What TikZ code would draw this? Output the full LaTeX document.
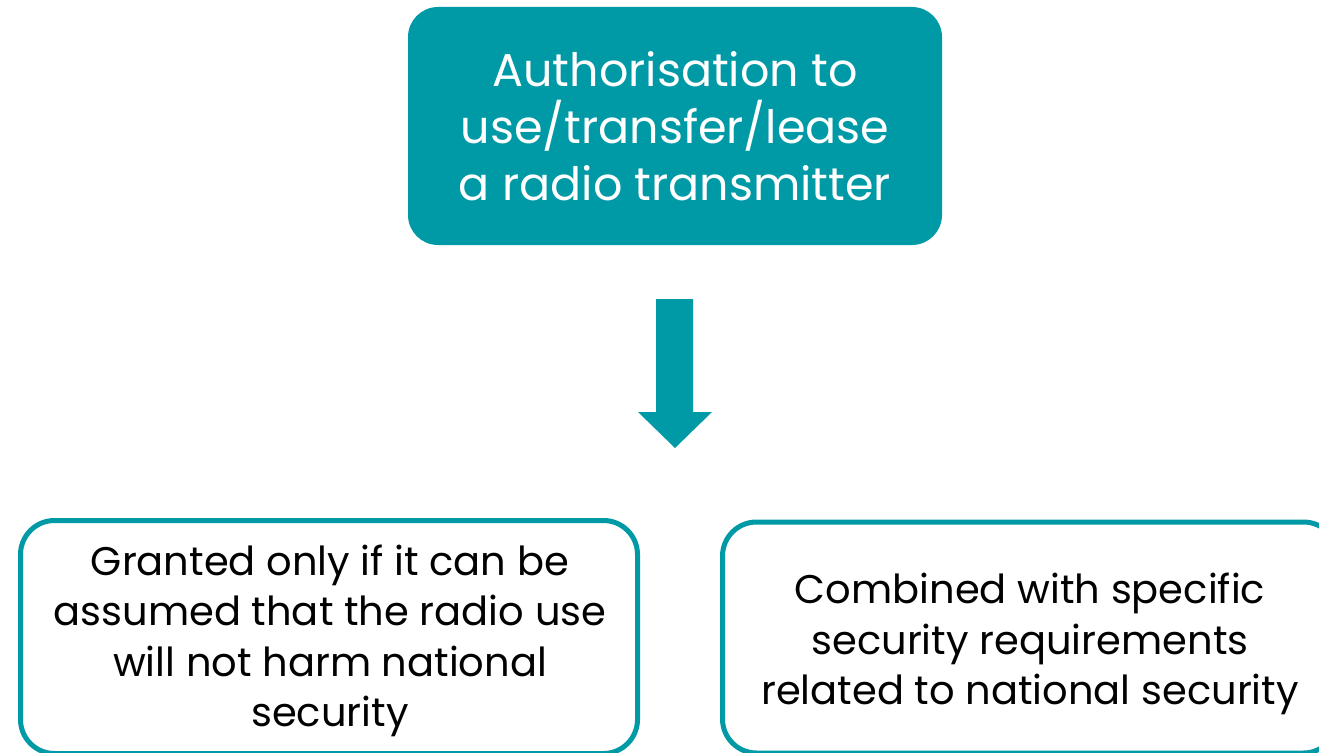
\documentclass[tikz,border=0pt]{standalone}
\usepackage{fontspec}
\setmainfont{Poppins}
\definecolor{teal}{RGB}{0,154,166}
\begin{document}
\begin{tikzpicture}[x=1pt,y=-1pt,
  topbox/.style={rectangle,fill=teal,rounded corners=30pt,minimum width=534pt,minimum height=238pt,inner sep=0pt},
  outbox/.style={rectangle,draw=teal,line width=5pt,fill=white,rounded corners=34pt,inner sep=0pt},
  toptext/.style={text=white,align=center,font=\fontsize{46}{57}\selectfont},
  bottext/.style={text=black,align=center,font=\fontsize{40}{50.5}\selectfont}]
\useasboundingbox (0,0) rectangle (1319,752);
\node[topbox] (top) at (675,126) {};
\node[toptext] (toptx) at (675,126) {Authorisation to\\use/transfer/lease\\a radio transmitter};
\node[outbox,minimum width=617pt,minimum height=233pt] (left) at (329,637) {};
\node[bottext] (lefttx) at (330,641) {Granted only if it can be\\assumed that the radio use\\will not harm national\\security};
\node[outbox,minimum width=615pt,minimum height=231pt] (right) at (1030,637.5) {};
\node[bottext] (righttx) at (1030,644) {Combined with specific\\security requirements\\related to national security};
\coordinate (a1) at (656,299);
\fill[teal] (a1) -- (693,299) -- (693,412) -- (712,412) -- (675,448) -- (638,412) -- (656,412) -- cycle;
\end{tikzpicture}
\end{document}
